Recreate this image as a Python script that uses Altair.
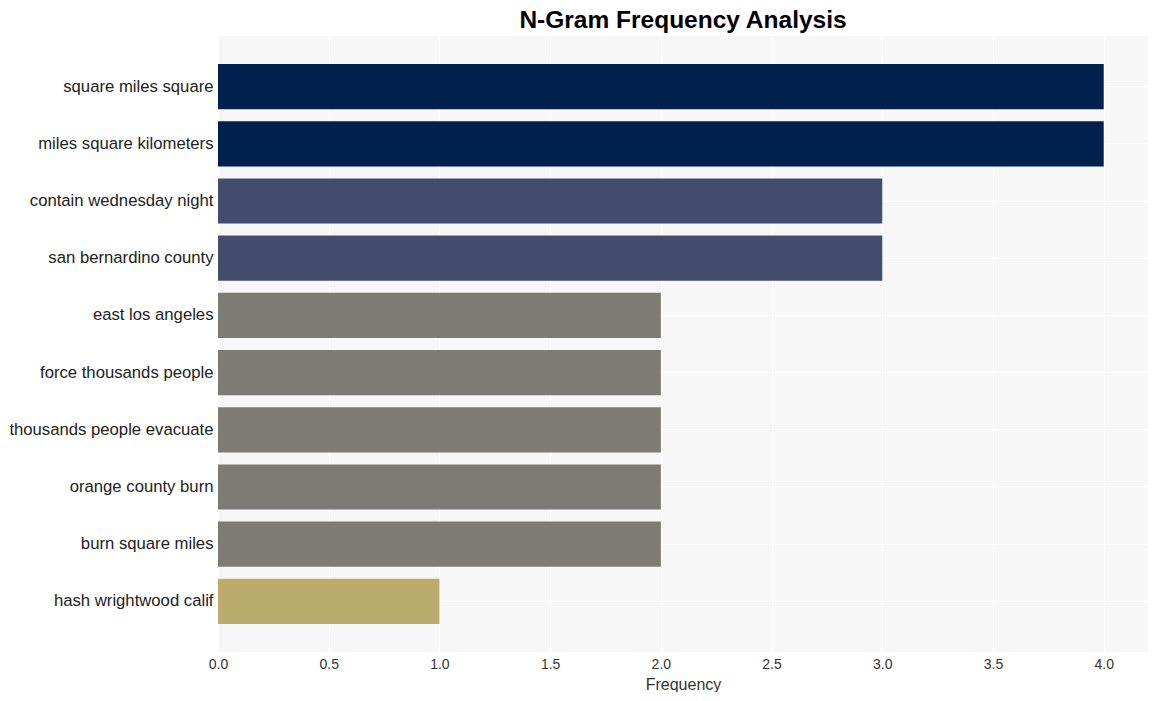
import altair as alt
import pandas as pd

ngrams = [
    "square miles square",
    "miles square kilometers",
    "contain wednesday night",
    "san bernardino county",
    "east los angeles",
    "force thousands people",
    "thousands people evacuate",
    "orange county burn",
    "burn square miles",
    "hash wrightwood calif",
]
frequency = [4, 4, 3, 3, 2, 2, 2, 2, 2, 1]
x_ticks = [0, 0.5, 1, 1.5, 2, 2.5, 3, 3.5, 4]
color_domain = [4, 3, 2, 1]
color_range = ["#00214d", "#434e6e", "#7d7b76", "#bbac6e"]

df = pd.DataFrame({"ngram": ngrams, "freq": frequency})

chart = (
    alt.Chart(df)
    .mark_bar()
    .encode(
        x=alt.X(
            "freq:Q",
            title="Frequency",
            scale=alt.Scale(domain=[0, 4.2], nice=False, zero=True),
            axis=alt.Axis(
                values=x_ticks,
                format=".1f",
                grid=True,
                gridColor="white",
                gridWidth=1,
                domain=False,
                ticks=False,
                labelFlush=False,
                labelFontSize=14,
                labelColor="#333333",
                labelPadding=5,
                titleFontSize=16,
                titleFontWeight="normal",
                titleColor="#333333",
                titlePadding=5,
                labelFont="Liberation Sans",
                titleFont="Liberation Sans",
            ),
        ),
        y=alt.Y(
            "ngram:N",
            sort=ngrams,
            title=None,
            scale=alt.Scale(paddingInner=0.21, paddingOuter=0.49),
            axis=alt.Axis(
                grid=True,
                gridColor="white",
                gridWidth=1,
                bandPosition=0.5,
                domain=False,
                ticks=False,
                labelFontSize=16.7,
                labelColor="#222222",
                labelPadding=5,
                labelFont="Liberation Sans",
                labelLimit=300,
            ),
        ),
        color=alt.Color(
            "freq:O",
            scale=alt.Scale(domain=color_domain, range=color_range),
            legend=None,
        ),
    )
    .properties(
        width=930,
        height=616,
        background="white",
        title=alt.TitleParams(
            "N-Gram Frequency Analysis",
            fontSize=24.5,
            fontWeight="bold",
            color="black",
            font="Liberation Sans",
            anchor="middle",
            offset=3,
        ),
        autosize=alt.AutoSizeParams(type="none"),
        padding={"left": 210, "top": 28, "right": 2, "bottom": 40},
    )
    .configure_view(fill="#f7f7f7", stroke=None)
)

chart.save("out.html", embed_options={"renderer": "svg", "actions": False})
